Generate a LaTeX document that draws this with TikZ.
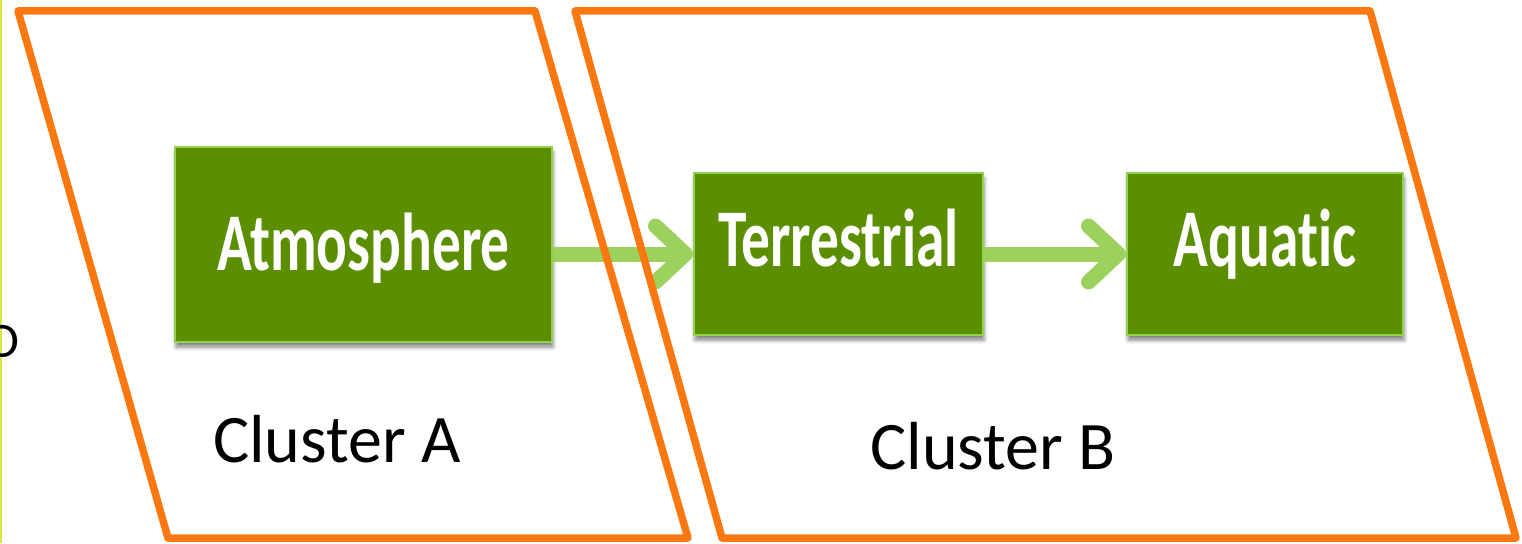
\documentclass[tikz,border=0pt]{standalone}
\usepackage{fontspec}
\setmainfont{Carlito}[Ligatures={NoCommon}]
\usetikzlibrary{arrows.meta,shadows.blur}

\definecolor{clusterorange}{RGB}{250,120,15}
\definecolor{boxgreen}{RGB}{91,143,0}
\definecolor{rimgreen}{RGB}{146,208,80}
\definecolor{arrowgreen}{RGB}{155,209,92}
\definecolor{edgeyellow}{RGB}{214,230,60}

\newcommand{\narrow}[1]{\scalebox{0.7}[1]{#1}}

\tikzset{
    greenbox/.style={draw=rimgreen, line width=2pt, fill=boxgreen, text=white,
        font=\fontsize{82}{82}\selectfont\bfseries, inner sep=0pt,
        text height=52pt, text depth=0pt,
        blur shadow={shadow xshift=1pt, shadow yshift=-5pt, shadow blur radius=4pt, shadow opacity=50}},
    clusterlabel/.style={font=\fontsize{68}{68}\selectfont, inner sep=0pt,
        text height=44pt, text depth=0pt},
    cluster/.style={draw=clusterorange, line width=7.5pt, line join=round},
    flow/.style={draw=arrowgreen, line width=15pt,
        -{Straight Barb[length=30pt, width=56pt, line width=15pt, round]}}
}

\begin{document}
\begin{tikzpicture}[x=1pt, y=-1pt]
    \useasboundingbox (0,0) rectangle (1522,543);
    \draw[edgeyellow, line width=1.5pt] (0.75,0) -- (0.75,543);

    \node[greenbox, minimum width=377pt, minimum height=195pt] (atm) at (363.5,244.5) {\narrow{Atmosphere}};
    \node[greenbox, minimum width=289pt, minimum height=162pt, text depth=28pt] (ter) at (838.5,254) {\narrow{Terrestrial}};
    \node[greenbox, minimum width=276pt, minimum height=162pt, text depth=28pt] (aqu) at (1265,254) {\narrow{Aquatic}};

    \node[clusterlabel] (ca) at (337,440) {Cluster A};
    \node[clusterlabel] (cb) at (993,447) {Cluster B};
    \node[font=\fontsize{50}{50}\selectfont, inner sep=0pt, text height=32pt, text depth=0pt, anchor=east] (cut) at (19,341) {D};

    \path (atm.east |- ter.west) edge[flow] (ter.west);
    \path (ter.east) edge[flow] (aqu.west);

    \draw[cluster] (18,11) -- (535,11) -- (688,538) -- (168,538) -- cycle;
    \draw[cluster] (575,11) -- (1370,11) -- (1516,538) -- (722,538) -- cycle;
\end{tikzpicture}
\end{document}
